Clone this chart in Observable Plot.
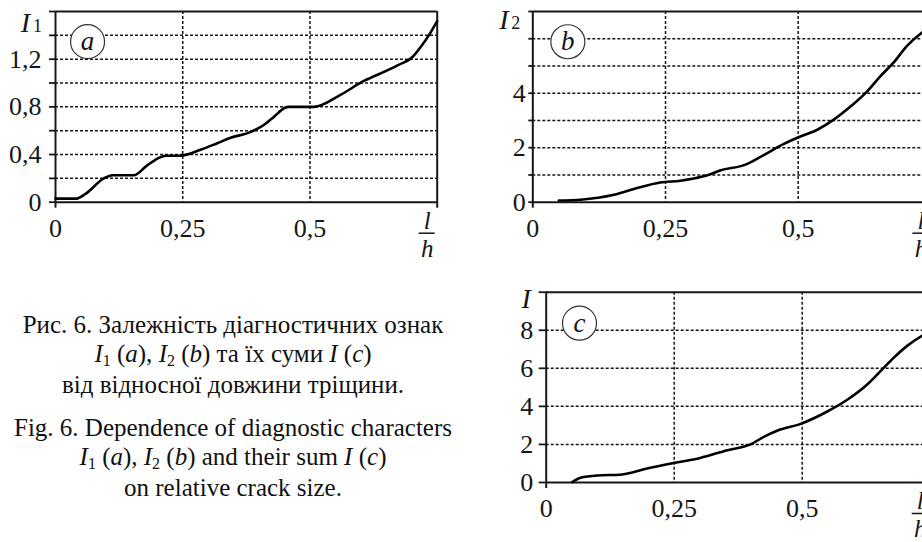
<!DOCTYPE html>
<html>
<head>
<meta charset="utf-8">
<script src="https://cdn.jsdelivr.net/npm/d3@7"></script>
<script src="https://cdn.jsdelivr.net/npm/@observablehq/plot@0.6"></script>
<style>
  html, body { margin: 0; padding: 0; background: #fff; overflow: hidden; }
  #page { position: relative; width: 922px; height: 542px; overflow: hidden; background: #fff;
          font-family: "Liberation Serif", "Times New Roman", serif; color: #111; }
  .pnl { position: absolute; width: 480px; }
  .pnl svg { overflow: visible; max-width: none !important; }
  .pnl g[aria-label^="y-axis"] line, .pnl g[aria-label^="y-axis"] path { stroke-width: 1.8; }
  .cap { position: absolute; left: 0; width: 466px; text-align: center; font-size: 25px; line-height: 28.5px; }
  .cap sub { font-size: 16px; vertical-align: baseline; position: relative; top: 4px; }
</style>
</head>
<body>
<div id="page">
  <div class="pnl" id="pa" style="left:0px; top:0px;"></div>
  <div class="pnl" id="pb" style="left:480px; top:0px;"></div>
  <div class="pnl" id="pc" style="left:480px; top:270px;"></div>
  <div class="cap" style="top:311px;">Рис. 6. Залежність діагностичних ознак<br><i>I</i><sub>1</sub> (<i>a</i>), <i>I</i><sub>2</sub> (<i>b</i>) та їх суми <i>I</i> (<i>c</i>)<br>від відносної довжини тріщини.</div>
  <div class="cap" style="top:414px;">Fig. 6. Dependence of diagnostic characters<br><i>I</i><sub>1</sub> (<i>a</i>), <i>I</i><sub>2</sub> (<i>b</i>) and their sum <i>I</i> (<i>c</i>)<br>on relative crack size.</div>
</div>
<script>
// ---------- data ----------
const xDomain = [0, 0.75];
const xTickValues = [0, 0.25, 0.5];
const xTickLabels = ["0", "0,25", "0,5"];
const xGrid = [0.25, 0.5];

// (a) I1
const xA  = [0, 0.041, 0.059, 0.095, 0.112, 0.154, 0.179, 0.207, 0.218, 0.246, 0.285, 0.318, 0.344, 0.384, 0.41, 0.43, 0.45, 0.458, 0.508, 0.56, 0.607, 0.62, 0.673, 0.702, 0.719, 0.735, 0.75];
const yA  = [0.03, 0.03, 0.07, 0.2, 0.226, 0.226, 0.305, 0.38, 0.39, 0.39, 0.44, 0.495, 0.54, 0.59, 0.65, 0.72, 0.79, 0.8, 0.8, 0.9, 1.02, 1.045, 1.15, 1.22, 1.31, 1.41, 1.52];
const yTicksA  = [0, 0.2, 0.4, 0.6, 0.8, 1, 1.2, 1.4, 1.6];
const yLabelsA = [0, 0.4, 0.8, 1.2];
const yGridA   = [0.2, 0.4, 0.6, 0.8, 1, 1.2, 1.4];

// (b) I2
const xB  = [0.049, 0.09, 0.153, 0.197, 0.24, 0.278, 0.303, 0.329, 0.354, 0.398, 0.435, 0.473, 0.504, 0.536, 0.567, 0.599, 0.63, 0.655, 0.68, 0.705, 0.734, 0.75];
const yB  = [0.06, 0.09, 0.27, 0.52, 0.72, 0.79, 0.87, 0.99, 1.17, 1.36, 1.73, 2.14, 2.41, 2.66, 3.03, 3.52, 4.07, 4.63, 5.13, 5.74, 6.24, 6.45];
const yTicksB  = [0, 1, 2, 3, 4, 5, 6, 7];
const yLabelsB = [0, 2, 4];
const yGridB   = [1, 2, 3, 4, 5, 6];

// (c) I = I1 + I2
const xC  = [0.051, 0.067, 0.1, 0.145, 0.197, 0.249, 0.301, 0.354, 0.399, 0.425, 0.451, 0.497, 0.549, 0.588, 0.627, 0.653, 0.679, 0.705, 0.734, 0.75];
const yC  = [0.02, 0.25, 0.37, 0.41, 0.73, 1.02, 1.29, 1.7, 2.0, 2.4, 2.72, 3.08, 3.73, 4.35, 5.15, 5.85, 6.56, 7.18, 7.71, 7.95];
const yTicksC  = [0, 2, 4, 6, 8, 10];
const yLabelsC = [0, 2, 4, 6, 8];
const yGridC   = [2, 4, 6, 8];

const FONT = "Liberation Serif, Times New Roman, serif";
const INK = "#161616";
const fmt = d => String(d).replace(".", ",");

function panel(cfg) {
  const pts = cfg.xs.map((x, i) => ({x, y: cfg.ys[i]}));
  const top = cfg.yTicks[cfg.yTicks.length - 1];
  const dash = {stroke: INK, strokeWidth: 1.5, strokeDasharray: "3,2"};
  const marks = [
    Plot.ruleY(cfg.yGrid, dash),
    Plot.ruleX(xGrid, dash),
    Plot.ruleY([0, top], {stroke: INK, strokeWidth: 2}),
    Plot.ruleX([0, 0.75], {stroke: INK, strokeWidth: 2, insetBottom: -6}),
    Plot.line(pts, {x: "x", y: "y", stroke: "#000", strokeWidth: 2.6, curve: "monotone-x"}),
    Plot.dot([cfg.badge], {x: "x", y: "y", r: 17, fill: "#fff", stroke: "#333", strokeWidth: 1.2}),
    Plot.text([cfg.badge], {x: "x", y: "y", text: "t", fontStyle: "italic", fontSize: 27, fontFamily: FONT, fill: INK, dy: 0}),
    Plot.text(xTickValues.map((v, i) => ({v, t: xTickLabels[i]})), {x: "v", y: () => 0, text: "t", dy: 35, lineAnchor: "bottom", fontSize: 26, fontFamily: FONT, fill: INK}),
    // l/h fraction
    Plot.text([{t: "l"}], {x: () => 0.75, y: () => 0, text: "t", dx: -10, dy: 27, lineAnchor: "bottom", fontStyle: "italic", fontSize: 25, fontFamily: FONT, fill: INK}),
    Plot.ruleY([0], {x1: () => 0.75, x2: () => 0.75, dy: 31, insetLeft: -18, insetRight: 2, stroke: INK, strokeWidth: 1.5}),
    Plot.text([{t: "h"}], {x: () => 0.75, y: () => 0, text: "t", dx: -10, dy: 55, lineAnchor: "bottom", fontStyle: "italic", fontSize: 25, fontFamily: FONT, fill: INK}),
    // axis label I with subscript
    Plot.text([{t: "I"}], {x: () => 0, y: () => top, text: "t", dx: cfg.labelDx, dy: cfg.labelDy, lineAnchor: "bottom", fontStyle: "italic", fontSize: 28, fontFamily: FONT, fill: INK})
  ];
  if (cfg.sub) marks.push(
    Plot.text([{t: cfg.sub}], {x: () => 0, y: () => top, text: "t", dx: cfg.labelDx + 12, dy: cfg.labelDy, lineAnchor: "bottom", fontSize: 18, fontFamily: FONT, fill: INK})
  );
  return Plot.plot({
    width: cfg.width, height: cfg.height,
    marginLeft: cfg.ml, marginRight: cfg.mr, marginTop: cfg.mt, marginBottom: cfg.mb,
    style: {fontFamily: FONT, fontSize: "26px", color: INK, background: "transparent", overflow: "visible", maxWidth: "none"},
    x: {domain: xDomain, axis: null},
    y: {domain: [0, top], ticks: cfg.yTicks, tickSize: cfg.tickSize, tickPadding: cfg.pad,
        tickFormat: d => cfg.yLabels.includes(d) ? fmt(d) : "", label: null, line: false},
    marks
  });
}

document.getElementById("pa").append(panel({
  xs: xA, ys: yA, yTicks: yTicksA, yLabels: yLabelsA, yGrid: yGridA,
  badge: {x: 0.063, y: 1.347, t: "a"}, sub: "1", labelDx: -30, labelDy: 20,
  width: 457, height: 262, ml: 55, mr: 20.3, mt: 11, mb: 60.3, tickSize: 6, pad: 8
}));
document.getElementById("pb").append(panel({
  xs: xB, ys: yB, yTicks: yTicksB, yLabels: yLabelsB, yGrid: yGridB,
  badge: {x: 0.066, y: 5.89, t: "b"}, sub: "2", labelDx: -29, labelDy: 18,
  width: 470.4, height: 262, ml: 52.3, mr: 20, mt: 11, mb: 60.3, tickSize: 4, pad: 3
}));
document.getElementById("pc").append(panel({
  xs: xC, ys: yC, yTicks: yTicksC, yLabels: yLabelsC, yGrid: yGridC,
  badge: {x: 0.065, y: 8.37, t: "c"}, sub: null, labelDx: -20, labelDy: 16,
  width: 469.7, height: 272, ml: 65.7, mr: 20, mt: 21.7, mb: 60, tickSize: 7, pad: 6
}));
</script>
</body>
</html>
